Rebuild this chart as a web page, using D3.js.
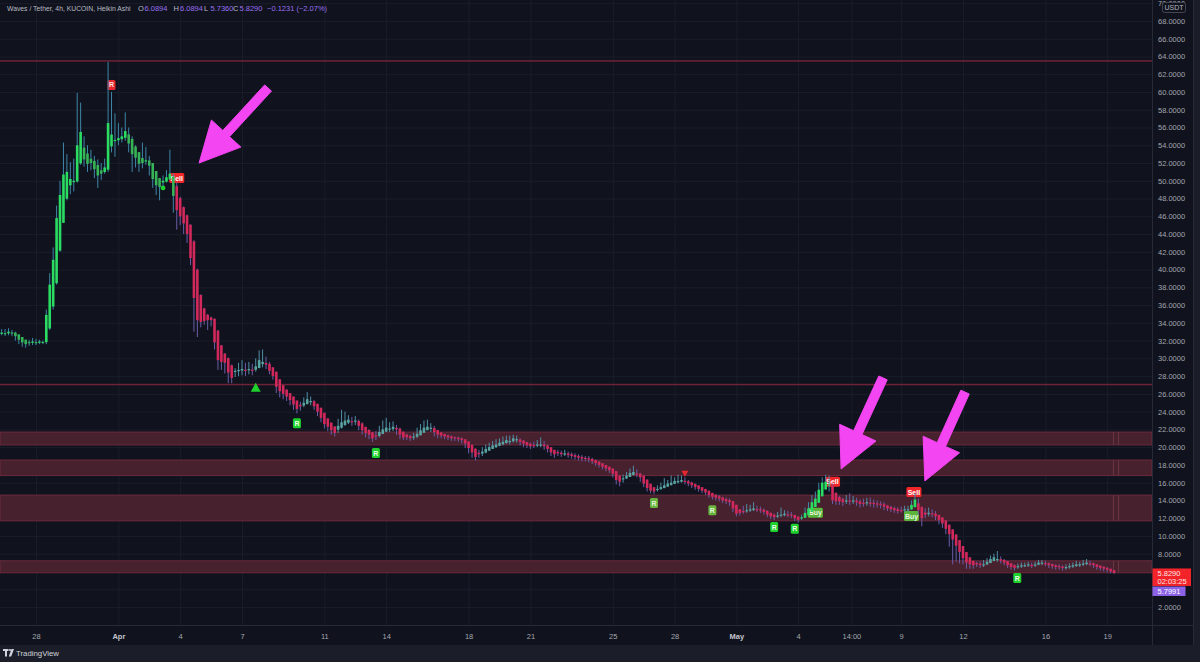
<!DOCTYPE html>
<html><head><meta charset="utf-8">
<script src="https://cdn.jsdelivr.net/npm/d3@7"></script>
<style>
html,body{margin:0;padding:0;background:#10131d;}
svg{display:block;font-family:"Liberation Sans",Arial,sans-serif;}
</style></head><body>
<svg id="chart" width="1200" height="662"></svg>
<script>
// ---------------- DATA (Heikin Ashi 4h candles, WAVES/USDT KuCoin) ----------------
const firstCandle = "2022-03-26T08:00:00Z";
const candleHours = 4;
const haOpen0 = 32.8;
const haClose = [
32.9,32.8,33.0,32.9,32.5,32.1,31.8,31.6,31.7,31.9,
31.8,31.9,31.8,34.9,38.3,41.1,45.8,48.4,50.7,51.0,
50.2,50.0,54.0,55.5,52.4,51.9,52.0,51.3,50.6,50.8,
51.5,56.5,55.2,54.6,54.8,55.0,55.6,54.2,53.0,52.6,
51.9,52.0,52.3,51.7,50.2,49.5,49.3,50.0,50.4,50.8,
48.3,46.7,46.0,45.2,44.0,41.3,36.8,34.3,34.1,34.2,
34.3,34.3,31.8,29.8,29.6,29.5,28.4,27.8,28.6,28.7,
28.8,28.6,28.8,28.7,29.1,29.8,29.6,29.3,28.6,28.0,
26.8,26.3,26.0,25.7,25.3,24.8,24.3,24.6,25.0,25.4,
25.2,24.6,24.0,23.3,22.6,22.3,21.9,21.6,22.4,22.8,
23.0,23.1,22.9,23.0,22.4,21.9,21.6,21.4,21.0,21.2,
21.7,22.0,22.2,22.1,22.3,22.0,21.4,21.1,21.1,21.0,
21.2,21.5,21.9,22.2,22.3,22.2,21.7,21.4,21.3,21.2,
21.1,21.0,21.0,20.9,20.8,20.4,19.9,19.4,18.9,19.2,
19.5,19.8,20.0,20.2,20.3,20.5,20.6,20.8,20.7,21.0,
20.9,20.6,20.4,20.2,20.1,20.2,20.3,20.3,20.1,19.8,
19.4,19.2,19.3,19.2,19.3,19.1,19.0,18.9,18.8,18.7,
18.7,18.6,18.4,18.2,18.0,17.8,17.6,17.4,17.0,16.3,
16.1,16.5,16.8,17.1,17.2,17.0,16.6,15.9,15.4,15.1,
15.0,15.3,15.5,15.7,15.9,16.0,16.2,16.2,16.3,16.1,
15.9,15.7,15.5,15.3,15.1,14.9,14.6,14.4,14.3,14.2,
14.0,13.9,13.8,13.1,12.5,12.6,12.8,12.9,13.0,13.1,
13.0,12.9,12.7,12.4,12.2,12.1,12.3,12.4,12.5,12.4,
12.3,12.0,11.8,12.1,12.6,13.1,13.8,14.2,15.2,16.0,
16.1,15.8,14.0,13.9,13.9,13.8,14.0,13.9,14.0,13.8,
13.6,13.7,13.8,13.7,13.6,13.6,13.5,13.3,13.1,13.0,
12.9,12.8,12.9,13.0,13.0,13.5,14.1,12.9,12.0,12.4,
12.6,12.5,12.2,11.8,11.4,10.8,10.2,9.6,8.9,8.2,
7.5,7.0,6.8,6.7,6.8,6.7,6.8,7.1,7.4,
7.6,7.4,7.2,7.0,6.7,6.5,6.4,6.6,6.7,6.7,
6.8,6.7,6.8,7.0,7.0,6.9,6.7,6.6,6.5,6.5,
6.4,6.5,6.6,6.7,6.8,6.8,6.9,7.0,6.9,6.7,
6.5,6.4,6.3,6.2,6.0,5.829];
const haHigh = [
33.3,33.3,33.4,33.2,33.0,32.6,32.2,32.0,32.1,32.3,
32.2,32.1,32.0,35.5,39.6,42.5,47.2,50.0,54.3,53.0,
52.1,52.5,59.9,58.8,55.0,54.0,53.5,52.8,52.4,52.0,
52.5,63.4,60.0,57.6,56.5,56.0,57.7,56.0,55.0,54.0,
53.0,54.3,53.8,52.8,52.0,51.0,50.2,50.6,51.2,53.5,
50.8,49.8,48.2,47.1,46.2,45.1,43.3,40.1,37.2,35.7,
35.0,34.7,34.5,33.2,31.5,30.6,30.1,29.3,28.9,29.5,
29.8,29.5,29.6,29.4,30.0,30.9,31.0,30.2,29.6,28.9,
28.0,27.3,26.6,26.2,25.9,25.5,25.0,25.1,25.6,26.2,
25.7,25.3,24.8,24.0,23.5,23.0,22.6,22.3,23.2,24.2,
24.0,23.6,23.4,23.5,23.1,22.8,22.3,22.0,21.7,21.8,
22.4,23.0,23.3,22.8,22.9,22.5,22.2,21.6,21.5,21.4,
21.6,22.2,22.6,23.0,23.1,22.7,22.4,21.9,21.6,21.5,
21.4,21.3,21.2,21.2,21.1,20.9,20.5,20.0,19.5,19.7,
20.0,20.3,20.5,20.7,20.9,21.0,21.2,21.3,21.3,21.4,
21.3,21.0,20.8,20.6,20.5,20.6,20.8,21.1,20.7,20.3,
19.9,19.6,19.7,19.6,19.7,19.5,19.4,19.3,19.2,19.1,
19.0,19.0,18.8,18.6,18.4,18.2,18.0,17.8,17.5,17.1,
16.6,16.9,17.2,17.6,17.9,17.5,17.1,16.7,16.0,15.6,
15.4,15.7,16.0,16.5,16.3,16.8,16.6,16.9,16.8,16.6,
16.3,16.1,15.9,15.7,15.5,15.3,15.1,14.8,14.7,14.6,
14.4,14.3,14.2,13.8,13.2,13.0,13.4,13.6,13.5,13.8,
13.4,13.3,13.1,12.9,12.6,12.5,12.7,13.2,12.9,12.8,
12.7,12.4,12.2,12.4,13.2,13.8,14.6,15.0,16.0,16.6,
16.9,16.8,15.9,14.7,14.5,14.3,14.6,14.8,14.5,14.3,
14.1,14.2,14.3,14.3,14.1,14.0,13.9,13.8,13.5,13.4,
13.3,13.2,13.3,13.4,13.4,14.0,14.8,14.2,13.2,13.1,
13.2,13.0,12.8,12.4,12.0,11.6,11.0,10.3,9.7,9.0,
8.2,7.6,7.3,7.2,7.1,7.1,7.3,7.5,7.8,
8.0,8.3,7.7,7.4,7.2,6.9,6.8,6.9,7.0,7.0,
7.1,7.0,7.1,7.3,7.3,7.2,7.0,6.9,6.8,6.8,
6.7,6.8,6.9,7.0,7.2,7.1,7.3,7.4,7.2,7.0,
6.8,6.7,6.6,6.5,6.3,6.0894];
const haLow = [
32.6,32.5,32.6,32.5,32.0,31.6,31.3,31.2,31.4,31.5,
31.5,31.6,31.6,31.6,33.2,35.5,38.3,42.0,45.3,47.8,
48.5,48.8,49.8,51.8,51.6,51.0,51.2,50.3,49.2,50.1,
50.8,51.0,53.2,52.7,54.0,54.3,54.5,53.2,51.0,51.5,
51.0,51.4,51.8,50.6,49.2,48.4,47.8,49.4,49.8,50.2,
46.4,44.5,45.0,44.0,43.0,40.5,33.0,32.4,33.5,33.8,
33.2,33.6,31.0,28.7,28.7,28.3,27.2,27.2,27.9,28.0,
28.1,28.0,28.2,28.1,28.5,28.9,29.0,28.8,28.2,27.6,
26.1,25.6,25.4,25.2,24.7,24.2,23.8,24.1,24.5,24.9,
24.7,24.2,23.5,22.8,22.1,21.8,21.4,21.2,21.6,22.1,
22.4,22.6,22.4,22.5,21.9,21.4,21.1,20.9,20.6,20.8,
21.1,21.5,21.8,21.7,21.8,21.4,20.9,20.8,20.8,20.7,
20.8,21.0,21.4,21.8,21.9,21.7,21.2,21.0,21.0,20.9,
20.8,20.7,20.7,20.6,20.4,19.9,19.3,18.8,18.5,18.8,
19.0,19.3,19.6,19.8,19.9,20.1,20.2,20.4,20.3,20.5,
20.5,20.2,20.0,19.9,19.8,19.9,20.0,20.0,19.7,19.4,
19.0,18.8,19.0,18.9,19.0,18.8,18.7,18.6,18.5,18.4,
18.4,18.3,18.1,17.9,17.7,17.5,17.3,17.1,16.6,15.8,
15.6,16.0,16.4,16.7,16.8,16.6,16.1,15.5,15.0,14.8,
14.7,15.0,15.2,15.4,15.6,15.7,15.9,15.9,16.0,15.8,
15.6,15.4,15.2,15.0,14.8,14.6,14.3,14.1,14.0,13.9,
13.7,13.6,13.4,12.7,12.2,12.3,12.5,12.6,12.7,12.8,
12.7,12.6,12.4,12.1,11.9,11.8,12.0,12.1,12.2,12.1,
12.0,11.7,11.5,11.8,12.2,12.7,13.2,13.8,14.5,15.2,
15.4,15.0,13.6,13.5,13.5,13.4,13.6,13.5,13.6,13.4,
13.2,13.3,13.4,13.3,13.2,13.2,13.1,12.9,12.8,12.7,
12.6,12.5,12.6,12.7,12.7,13.0,13.4,12.4,11.1,12.0,
12.2,12.1,11.8,11.3,10.9,10.2,8.8,6.8,7.1,6.9,
6.8,6.3,6.3,6.3,6.5,6.4,6.5,6.7,7.0,
7.2,7.1,6.9,6.7,6.4,6.2,6.1,6.3,6.4,6.5,
6.5,6.4,6.5,6.7,6.7,6.6,6.4,6.3,6.2,6.2,
6.1,6.2,6.3,6.4,6.5,6.5,6.6,6.7,6.6,6.4,
6.2,6.1,6.0,5.9,5.8,5.736];

// indicator trend state: candle index ranges in the bullish (green) regime
const bullStart = [0, 233, 265];
const bullEnd   = [50, 241, 266];

// support / resistance zones and levels (price)
const zoneTop    = [21.7, 18.55, 14.6, 7.2];
const zoneBottom = [20.25, 16.8, 11.7, 5.85];
const levelLines = [63.5, 27.05];
const zoneEdgeDates = ["2022-05-19T06:45:00Z", "2022-05-19T12:30:00Z"];

// signal markers (candle index, price)
const markerKind  = ["rRed","sell","dot","triUp","rGreen","rGreen","triDown","rOlive","rOlive","rGreen","rGreen","buy","sell","sell","buy","rGreen"];
const markerIndex = [32, 51, 47, 74, 86, 109, 199, 190, 207, 225, 231, 237, 242, 265.7, 265, 295.8];
const markerPrice = [60.8, 50.3, 49.2, 26.7, 22.7, 19.35, 17.0, 13.7, 12.9, 11.0, 10.8, 12.6, 16.1, 14.95, 12.25, 5.27];

// hand-drawn arrows (candle index, price)
const arrowTipIndex  = [57.5, 244.5, 268.9];
const arrowTipPrice  = [52.0, 17.54, 16.19];
const arrowTailIndex = [77.6, 256.7, 280.6];
const arrowTailPrice = [60.45, 27.8, 26.2];

// axes
const priceTicks = [2,4,6,8,10,12,14,16,18,20,22,24,26,28,30,32,34,36,38,40,42,44,46,48,50,52,54,56,58,60,62,64,66,68,70];
const timeTickDates = ["2022-03-28T00:00:00Z","2022-04-01T00:00:00Z","2022-04-04T00:00:00Z","2022-04-07T00:00:00Z","2022-04-11T00:00:00Z","2022-04-14T00:00:00Z","2022-04-18T00:00:00Z","2022-04-21T00:00:00Z","2022-04-25T00:00:00Z","2022-04-28T00:00:00Z","2022-05-01T00:00:00Z","2022-05-04T00:00:00Z","2022-05-06T14:00:00Z","2022-05-09T00:00:00Z","2022-05-12T00:00:00Z","2022-05-16T00:00:00Z","2022-05-19T00:00:00Z"];
const timeTickLabels = ["28","Apr","4","7","11","14","18","21","25","28","May","4","14:00","9","12","16","19"];
const lastPrice = 5.829, lastPriceTimer = "02:03:25", markPrice = 5.7991;
const headerTitle = "Waves / Tether, 4h, KUCOIN, Heikin Ashi";
const headerO = "6.0894", headerH = "6.0894", headerL = "5.7360", headerC = "5.8290", headerChg = "\u22120.1231 (\u22122.07%)";

// ---------------- LAYOUT ----------------
const W = 1200, H = 662, plotRight = 1152, plotBottom = 625, axisBottom = 645, rightEdge = 1193;
const svg = d3.select("#chart");
const x = d3.scaleUtc().domain([new Date("2022-03-26T06:04:00Z"), new Date("2022-05-21T04:12:00Z")]).range([0, plotRight]);
const y = d3.scaleLinear().domain([-0.03, 70.36]).range([plotBottom, 0]);
const t0 = new Date(firstCandle).getTime();
const tOf = i => new Date(t0 + i * candleHours * 3600e3);
const xi = i => x(tOf(i));

svg.append("rect").attr("width", W).attr("height", H).attr("fill", "#10131d");
svg.append("rect").attr("x", 0).attr("y", axisBottom).attr("width", W).attr("height", H - axisBottom).attr("fill", "#1b1e28");
svg.append("rect").attr("x", rightEdge).attr("y", 0).attr("width", W - rightEdge).attr("height", axisBottom).attr("fill", "#1b1e28");

svg.append("defs").append("clipPath").attr("id", "plotClip")
  .append("rect").attr("x", 0).attr("y", 0).attr("width", plotRight).attr("height", plotBottom);

// price axis + horizontal grid
const gy = svg.append("g").attr("transform", `translate(${plotRight},0)`)
  .call(d3.axisRight(y).tickValues(priceTicks).tickFormat(d3.format(".4f"))
    .tickSizeInner(-plotRight).tickSizeOuter(0).tickPadding(6));
gy.select(".domain").remove();
gy.attr("font-family", null).attr("font-size", null);
gy.selectAll("line").attr("stroke", "#1a1e2b");
gy.selectAll("text").attr("fill", "#a3a6af").attr("font-size", 7.5);

// time axis + vertical grid
const gx = svg.append("g").attr("transform", `translate(0,${plotBottom})`)
  .call(d3.axisBottom(x).tickValues(timeTickDates.map(d => new Date(d)))
    .tickFormat((d, i) => timeTickLabels[i]).tickSizeInner(-plotBottom).tickSizeOuter(0).tickPadding(8.5));
gx.select(".domain").remove();
gx.attr("font-family", null).attr("font-size", null);
gx.selectAll("line").attr("stroke", "#1a1e2b");
gx.selectAll("text").attr("fill", (d, i) => /[A-Za-z]/.test(timeTickLabels[i]) ? "#c3c6ce" : "#a3a6af")
  .attr("font-weight", (d, i) => /[A-Za-z]/.test(timeTickLabels[i]) ? "bold" : null)
  .attr("font-size", 7.5);

// separators
svg.append("rect").attr("x", 0).attr("y", plotBottom).attr("width", rightEdge).attr("height", 1).attr("fill", "#262a36");
svg.append("rect").attr("x", plotRight).attr("y", 0).attr("width", 1).attr("height", axisBottom).attr("fill", "#262a36");
svg.append("rect").attr("x", rightEdge).attr("y", 0).attr("width", 1).attr("height", axisBottom).attr("fill", "#262a36");

const plot = svg.append("g").attr("clip-path", "url(#plotClip)");

// zones
const zones = zoneTop.map((t, i) => ({ top: t, bottom: zoneBottom[i] }));
plot.selectAll("rect.zone").data(zones).join("rect").attr("class", "zone")
  .attr("x", 0).attr("width", plotRight)
  .attr("y", d => y(d.top)).attr("height", d => y(d.bottom) - y(d.top))
  .attr("fill", "#48212e").attr("stroke", "#6c2a3c").attr("stroke-width", 1);
zones.forEach(z => {
  zoneEdgeDates.forEach(dt => {
    const xx = Math.round(x(new Date(dt)));
    plot.append("rect").attr("x", xx).attr("width", 1).attr("y", y(z.top)).attr("height", y(z.bottom) - y(z.top))
      .attr("fill", "#6a3442");
  });
});
// horizontal level lines: thin maroon bands
plot.selectAll("rect.level").data(levelLines).join("rect").attr("class", "level")
  .attr("x", 0).attr("width", plotRight).attr("y", d => y(d) - 0.75).attr("height", 1.5)
  .attr("fill", "#6e2238").attr("stroke", "none");

// candles
const haOpen = [];
haClose.forEach((c, i) => { haOpen.push(i === 0 ? haOpen0 : (haOpen[i - 1] + haClose[i - 1]) / 2); });
const isBull = i => bullStart.some((s, k) => i >= s && i <= bullEnd[k]);
const candles = haClose.map((c, i) => {
  const o = haOpen[i];
  return { i, o, c, h: Math.max(haHigh[i], o, c), l: Math.min(haLow[i], o, c), bull: isBull(i), up: c >= o };
});
const bodyW = 2.6;
function bodyColor(d) {
  if (d.bull) return d.up ? "#2bdc63" : "#37b457";
  return d.up ? "#58a39f" : "#d2285c";
}
function wickColor(d) {
  if (d.bull) return "#3d86a8";
  return d.up ? "#4f8ea4" : "#6a5da8";
}

// markers drawn beneath candles
const markers = markerKind.map((k, j) => ({ k, i: markerIndex[j], p: markerPrice[j] }));
const labelStyle = {
  rRed:   { text: "R",    fill: "#e8262d", color: "#ffe1e1", w: 8 },
  rGreen: { text: "R",    fill: "#1fd12c", color: "#e9ffe9", w: 8 },
  rOlive: { text: "R",    fill: "#68b43f", color: "#e3f6d8", w: 8 },
  sell:   { text: "Sell", fill: "#f1262b", color: "#ffffff", w: 15 },
  buy:    { text: "Buy",  fill: "#5ab53a", color: "#e8f7e0", w: 15 }
};
const mg = plot.append("g");
markers.forEach(m => {
  const cx = xi(m.i), cy = y(m.p);
  if (labelStyle[m.k]) {
    const s = labelStyle[m.k];
    mg.append("rect").attr("x", cx - s.w / 2).attr("y", cy - 5).attr("width", s.w).attr("height", 10)
      .attr("rx", 1.5).attr("fill", s.fill);
    mg.append("text").attr("x", cx).attr("y", cy + 2.6).attr("text-anchor", "middle")
      .attr("font-size", 7).attr("font-weight", "bold").attr("fill", s.color).text(s.text);
  } else if (m.k === "dot") {
    mg.append("circle").attr("cx", cx).attr("cy", cy).attr("r", 2.4).attr("fill", "#1fd12c");
  } else if (m.k === "triUp") {
    mg.append("path").attr("d", `M${cx},${cy - 5}L${cx + 5},${cy + 4}L${cx - 5},${cy + 4}Z`).attr("fill", "#1fd12c");
  } else if (m.k === "triDown") {
    mg.append("path").attr("d", `M${cx - 3.5},${cy - 3}L${cx + 3.5},${cy - 3}L${cx},${cy + 3}Z`).attr("fill", "#e8262d");
  }
});

const cg = plot.append("g");
cg.selectAll("line.wick").data(candles).join("line").attr("class", "wick")
  .attr("x1", d => xi(d.i)).attr("x2", d => xi(d.i))
  .attr("y1", d => y(d.h)).attr("y2", d => y(d.l))
  .attr("stroke", wickColor).attr("stroke-width", 1);
cg.selectAll("rect.body").data(candles).join("rect").attr("class", "body")
  .attr("x", d => xi(d.i) - bodyW / 2).attr("width", bodyW)
  .attr("y", d => y(Math.max(d.o, d.c)))
  .attr("height", d => Math.max(1.2, Math.abs(y(d.o) - y(d.c))))
  .attr("fill", bodyColor);

// arrows
const ag = svg.append("g");
arrowTipIndex.forEach((ti, k) => {
  const tx = xi(ti), ty = y(arrowTipPrice[k]);
  const sx = xi(arrowTailIndex[k]), sy = y(arrowTailPrice[k]);
  const len = Math.hypot(sx - tx, sy - ty);
  const ux = (sx - tx) / len, uy = (sy - ty) / len;
  const nx = -uy, ny = ux;
  const headL = 40, headW = 20, shaftW = 4.6;
  const bx = tx + ux * headL, by = ty + uy * headL;
  const pts = [
    [tx, ty],
    [bx + nx * headW, by + ny * headW],
    [bx + nx * shaftW, by + ny * shaftW],
    [sx + nx * shaftW, sy + ny * shaftW],
    [sx - nx * shaftW, sy - ny * shaftW],
    [bx - nx * shaftW, by - ny * shaftW],
    [bx - nx * headW, by - ny * headW]
  ];
  ag.append("path").attr("d", "M" + pts.map(p => p.join(",")).join("L") + "Z")
    .attr("fill", "#f445f2").attr("stroke", "#f445f2").attr("stroke-width", 1).attr("stroke-linejoin", "round");
});

// price boxes on the right scale
const ly = y(lastPrice);
svg.append("rect").attr("x", plotRight + 0.5).attr("y", ly - 4.5).attr("width", 38.5).attr("height", 17.5).attr("fill", "#f3232a");
svg.append("text").attr("x", plotRight + 5.5).attr("y", ly + 2.8).attr("font-size", 7.5).attr("fill", "#ffe3e3").text(d3.format(".4f")(lastPrice));
svg.append("text").attr("x", plotRight + 5.5).attr("y", ly + 11).attr("font-size", 7.5).attr("fill", "#ffe3e3").text(lastPriceTimer);
svg.append("rect").attr("x", plotRight + 0.5).attr("y", ly + 13.5).attr("width", 33).attr("height", 9.5).attr("fill", "#8c62e6");
svg.append("text").attr("x", plotRight + 5.5).attr("y", ly + 21).attr("font-size", 7.5).attr("fill", "#ffffff").text(d3.format(".4f")(markPrice));

// USDT badge
svg.append("rect").attr("x", 1162.5).attr("y", 2.5).attr("width", 23).attr("height", 10).attr("rx", 2)
  .attr("fill", "#10131d").attr("stroke", "#434651");
svg.append("text").attr("x", 1174).attr("y", 10.2).attr("text-anchor", "middle").attr("font-size", 7).attr("fill", "#b2b5be").text("USDT");

// header
const hdr = svg.append("g").attr("font-size", 7.5);
hdr.append("text").attr("x", 7).attr("y", 10.5).attr("font-size", 6.8).attr("fill", "#b7bac3").text(headerTitle);
const hv = [["O", headerO, 138], ["H", headerH, 173.5], ["L", headerL, 204], ["C", headerC, 233]];
hv.forEach(([k, v, xx]) => {
  hdr.append("text").attr("x", xx).attr("y", 10.5).attr("fill", "#b7bac3").text(k);
  hdr.append("text").attr("x", xx + 6.5).attr("y", 10.5).attr("fill", "#9a6ff0").text(v);
});
hdr.append("text").attr("x", 267).attr("y", 10.5).attr("fill", "#9a6ff0").text(headerChg);

// TradingView footer
const ft = svg.append("g").attr("fill", "#d1d4dc");
ft.append("path").attr("d", "M3,649H8.5V651H7V656.5H5V651H3Z");
ft.append("circle").attr("cx", 10).attr("cy", 650).attr("r", 1.1);
ft.append("path").attr("d", "M11.5,649H14L11.2,656.5H8.8Z");
ft.append("text").attr("x", 16).attr("y", 656).attr("font-size", 7.8).text("TradingView");
</script>
</body></html>
